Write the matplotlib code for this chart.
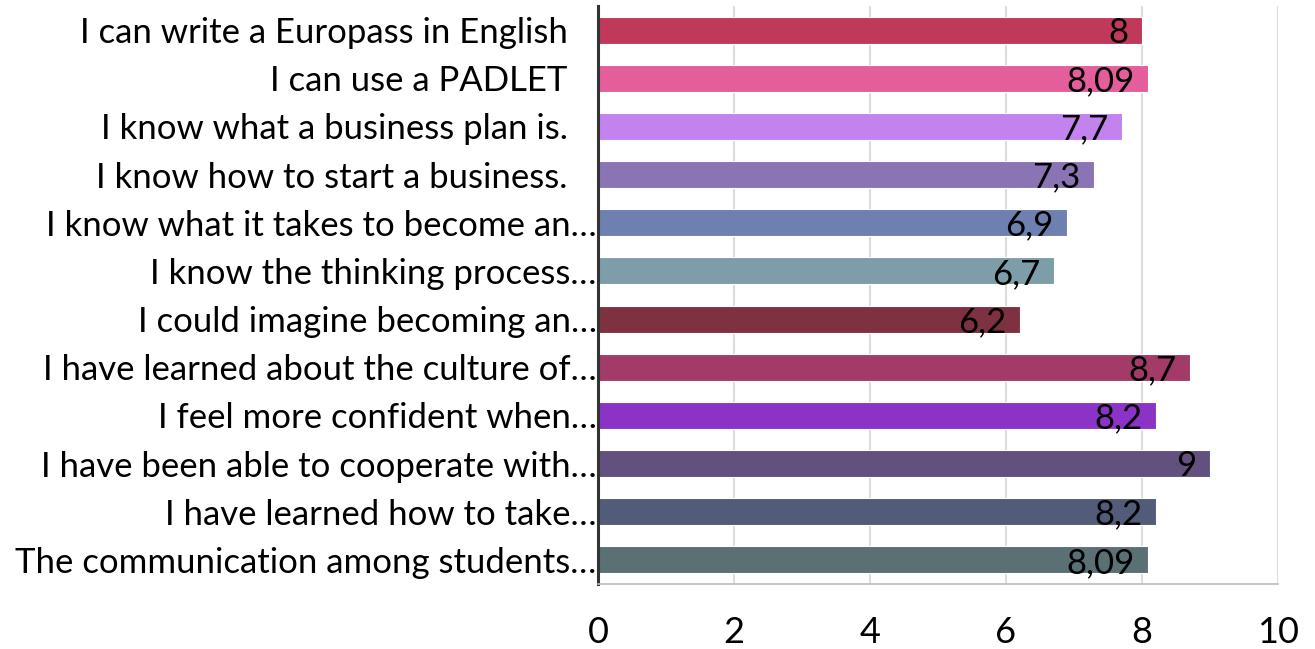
import matplotlib.pyplot as plt

plt.rcParams['font.family'] = ['Lato', 'DejaVu Sans']

labels = [
    "I can write a Europass in English",
    "I can use a PADLET",
    "I know what a business plan is.",
    "I know how to start a business.",
    "I know what it takes to become an\u2026",
    "I know the thinking process\u2026",
    "I could imagine becoming an\u2026",
    "I have learned about the culture of\u2026",
    "I feel more confident when\u2026",
    "I have been able to cooperate with\u2026",
    "I have learned how to take\u2026",
    "The communication among students\u2026",
]
values = [8, 8.09, 7.7, 7.3, 6.9, 6.7, 6.2, 8.7, 8.2, 9, 8.2, 8.09]
colors = ['#C0395A', '#E35E9A', '#C383EE', '#8B74B4', '#6E80B0', '#7D9EA9',
          '#7E3241', '#A23B68', '#8B33C6', '#62517E', '#525C78', '#5A7075']
xticks = [0, 2, 4, 6, 8, 10]

fig = plt.figure(figsize=(13.15, 6.49), dpi=100)
ax = fig.add_axes([0.4548, 0.1002, 0.5171, 0.8906])

pos = list(range(len(labels)))
ax.barh(pos, values, height=0.56, color=colors, edgecolor='white', linewidth=0.8, zorder=2)

# value labels sit inside the bar end
for p, v in zip(pos, values):
    txt = ('%g' % v).replace('.', ',')
    ax.text(v - 0.2, p + 0.06, txt, ha='right', va='center', fontsize=25,
            color='black', zorder=3)

ax.set_xlim(0, 10)
ax.set_ylim(len(labels) - 0.5, -0.5)
ax.set_xticks(xticks)
ax.set_xticklabels([str(t) for t in xticks], fontsize=26)
ax.set_yticks(pos)
ax.set_yticklabels(labels, fontsize=25)
ax.tick_params(axis='x', length=0, pad=23)
ax.tick_params(axis='y', length=0)
for i, t in enumerate(ax.yaxis.get_major_ticks()):
    t.set_pad(1 if labels[i].endswith('\u2026') else 22)

ax.grid(axis='x', color='#DDDDDD', linewidth=1.5, zorder=0)
ax.set_axisbelow(True)
for s in ['top', 'right']:
    ax.spines[s].set_visible(False)
ax.spines['left'].set_color('#333333')
ax.spines['left'].set_linewidth(2.2)
ax.spines['bottom'].set_color('#BBBBBB')
ax.spines['bottom'].set_linewidth(1.2)

fig.savefig('out.png', dpi=100)
